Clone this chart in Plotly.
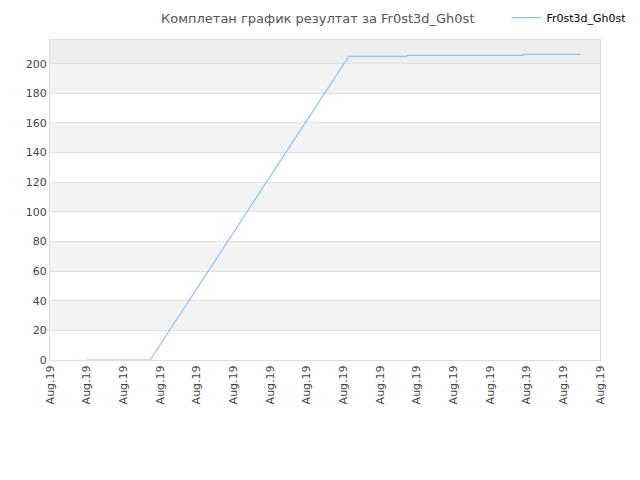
import plotly.graph_objects as go

# tick positions on the x axis (all labelled with the same date)
tick_pos = list(range(16))
tick_labels = ["Aug.19"] * 16

# line, x given in tick units
series_name = "Fr0st3d_Gh0st"
x_vals = [1.0, 2.73, 8.15, 9.73, 9.74, 12.9, 12.91, 14.47]
y_vals = [0, 0, 205, 205, 205.6, 205.6, 206.3, 206.3]

# horizontal stripes: (from, to, colour)
bands = [
    (0, 20, "#ffffff"), (20, 40, "#f3f3f3"), (40, 60, "#ffffff"),
    (60, 80, "#f3f3f3"), (80, 100, "#ffffff"), (100, 120, "#f3f3f3"),
    (120, 140, "#ffffff"), (140, 160, "#f3f3f3"), (160, 180, "#ffffff"),
    (180, 200, "#f3f3f3"), (200, 216, "#eeeeee"),
]

fig = go.Figure()
fig.add_trace(go.Scatter(
    x=x_vals, y=y_vals, mode="lines", name=series_name,
    line=dict(color="#94c1f0", width=1.2),
))

for lo, hi, col in bands:
    fig.add_shape(type="rect", xref="paper", yref="y", x0=0, x1=1, y0=lo, y1=hi,
                  fillcolor=col, line_width=0, layer="below")

# page body adds an 8px offset, so margins are shifted by that much
fig.update_layout(
    width=640, height=480,
    margin=dict(l=42, r=48, t=32, b=128, autoexpand=False),
    paper_bgcolor="white", plot_bgcolor="white",
    font=dict(family="DejaVu Sans", size=11, color="#444444"),
    title=dict(text="Комплетан график резултат за Fr0st3d_Gh0st", x=0.484, xanchor="center",
               y=0.979, yanchor="middle", font=dict(size=13, color="#555555")),
    showlegend=True,
    legend=dict(x=0.83, y=1.115, xanchor="left", yanchor="top",
                font=dict(size=11, color="#000000"), bgcolor="rgba(0,0,0,0)"),
    xaxis=dict(range=[0, 15], tickmode="array", tickvals=tick_pos, ticktext=tick_labels,
               tickangle=-90, showgrid=False, zeroline=False, showline=True,
               linecolor="#dddddd", mirror=True, ticks="", automargin=False),
    yaxis=dict(range=[0, 216], dtick=20, showgrid=True, gridcolor="#e2e2e2",
               zeroline=False, showline=True, linecolor="#dddddd", mirror=True, ticks="",
               automargin=False),
)

fig.write_html("out.html")
